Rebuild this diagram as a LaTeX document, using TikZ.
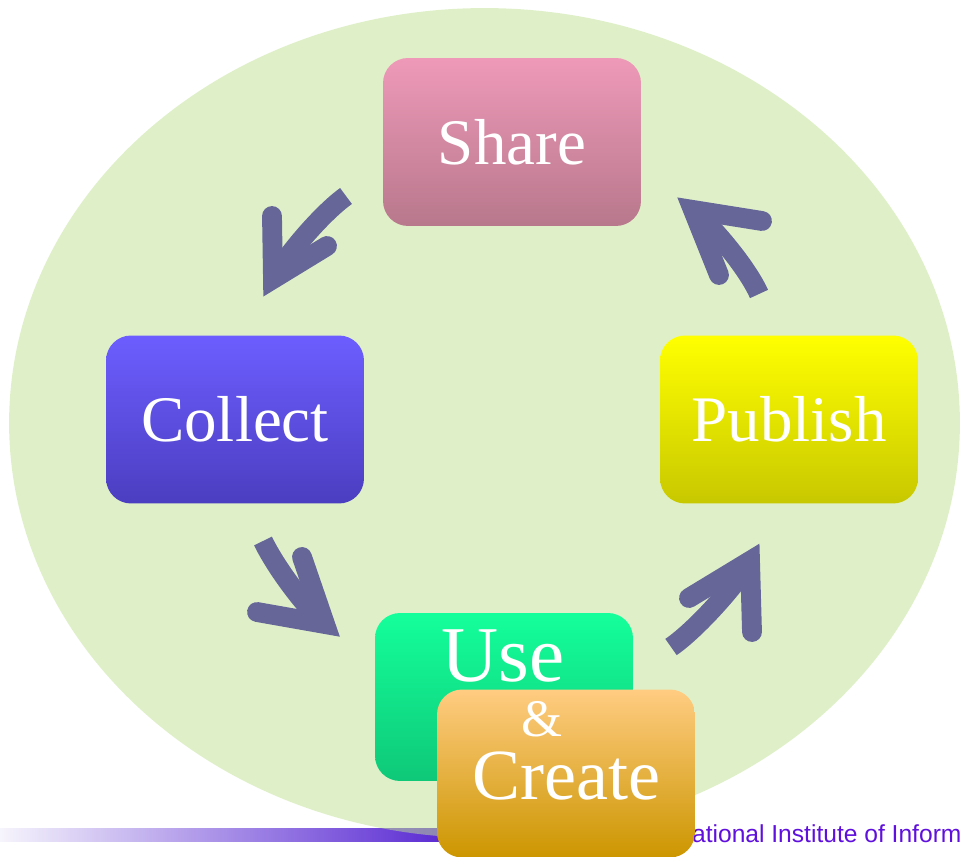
\documentclass[tikz,border=0pt]{standalone}
\usepackage{fontspec}
\setmainfont{Liberation Serif}
\newfontfamily\footfont{Liberation Sans}
\definecolor{ce}{RGB}{191,225,147}
\definecolor{ca}{RGB}{102,102,153}
\definecolor{cbarl}{RGB}{246,244,252}
\definecolor{cbarr}{RGB}{88,40,210}
\definecolor{cfoot}{RGB}{96,16,220}
\definecolor{c1t}{RGB}{238,153,184}
\definecolor{c1b}{RGB}{184,120,140}
\definecolor{c2t}{RGB}{108,94,255}
\definecolor{c2b}{RGB}{76,62,192}
\definecolor{c3t}{RGB}{255,255,0}
\definecolor{c3b}{RGB}{200,200,0}
\definecolor{c4t}{RGB}{20,255,155}
\definecolor{c4b}{RGB}{14,200,120}
\definecolor{c5t}{RGB}{255,204,130}
\definecolor{c5b}{RGB}{204,150,0}
\tikzstyle{stage}=[rounded corners=0.5cm, minimum width=5.16cm, minimum height=3.36cm, inner sep=0pt, text=white, font=\fontsize{37}{40}\selectfont]
\tikzstyle{word}=[white, inner sep=0pt]
\tikzstyle{stem}=[ca, line width=11.3pt]
\tikzstyle{barbs}=[ca, line width=11.3pt, line cap=round, line join=miter]
\tikzstyle{foot}=[cfoot, inner sep=0pt, font=\footfont\fontsize{14}{16}\selectfont]

\begin{document}
\begin{tikzpicture}[x=0.02cm, y=-0.02cm]
  \useasboundingbox (0,0) rectangle (960,857);
  \clip (0,0) rectangle (960,857);

  % footer bar and background
  \shade [left color=cbarl, right color=cbarr] (0,828) rectangle (450,841);
  \fill [ce, fill opacity=0.5] (484.5,423) ellipse [x radius=9.51cm, y radius=8.3cm];

  % arrows between the stages
  \coordinate (tail-1) at (346,196);
  \coordinate (v-1) at (273,279);
  \coordinate (barb-1a) at (272,216);
  \coordinate (barb-1b) at (327,246);
  \coordinate (tail-2) at (263,541);
  \coordinate (v-2) at (325,624);
  \coordinate (barb-2a) at (302,557);
  \coordinate (barb-2b) at (257,612);
  \coordinate (tail-3) at (671,647);
  \coordinate (v-3) at (750,561);
  \coordinate (barb-3a) at (689,598);
  \coordinate (barb-3b) at (752,632);
  \coordinate (tail-4) at (759,294);
  \coordinate (v-4) at (693,210);
  \coordinate (barb-4a) at (762,221);
  \coordinate (barb-4b) at (719,275);

  \draw [stem] (tail-1) .. controls +(-25,18) and +(12,-22) .. (v-1);
  \draw [stem] (tail-2) .. controls +(13,27) and +(-19,-16) .. (v-2);
  \draw [stem] (tail-3) .. controls +(25,-17) and +(-12,22) .. (v-3);
  \draw [stem] (tail-4) .. controls +(-12,-27) and +(19,16) .. (v-4);
  \foreach \i in {1,...,4}{
    \draw [barbs] (barb-\i a) -- (v-\i) -- (barb-\i b);
  }

  % stages
  \node [stage, top color=c1t, bottom color=c1b] (share) at (512,142) {Share};
  \node [stage, top color=c2t, bottom color=c2b] (collect) at (235,419.5) {Collect};
  \node [stage, top color=c3t, bottom color=c3b] (publish) at (789,419.5) {Publish};

  \node [foot, anchor=base west] (nii) at (674,842) {National Institute of Informatics};

  \node [stage, top color=c4t, bottom color=c4b] (use) at (504,697) {};
  \node [stage, top color=c5t, bottom color=c5b] (create) at (566,773.5) {};
  \node [word, anchor=base, font=\fontsize{45}{48}\selectfont] (use-text) at (503,682) {Use};
  \node [word, anchor=base, font=\fontsize{30}{33}\selectfont] (amp-text) at (542,736) {\&};
  \node [word, anchor=base, font=\fontsize{41}{44}\selectfont] (create-text) at (566,799) {Create};
\end{tikzpicture}
\end{document}
